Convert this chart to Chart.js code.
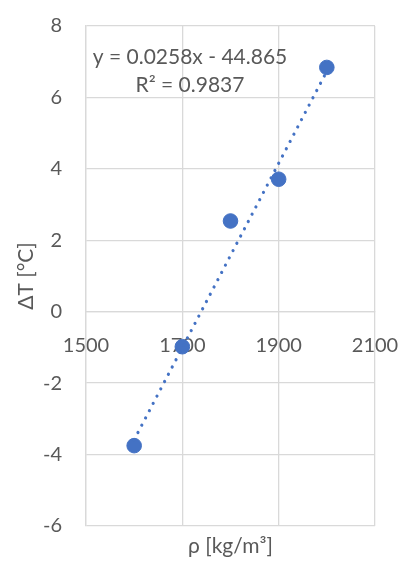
<!DOCTYPE html>
<html>
<head>
<meta charset="utf-8">
<script src="https://cdn.jsdelivr.net/npm/chart.js@4.4.1/dist/chart.umd.min.js"></script>
<style>
  html, body { margin: 0; padding: 0; background: #ffffff; }
  #wrap { width: 401px; height: 562px; position: relative; }
</style>
</head>
<body>
<div id="wrap"><canvas id="c" width="401" height="562"></canvas></div>
<script>
// Density (kg/m³) and temperature difference (°C) measurements
const density = [1600, 1700, 1800, 1900, 2000];
const deltaT = [-3.75, -0.98, 2.54, 3.71, 6.84];

// Linear trendline coefficients as shown in the equation label
const slope = 0.0258;
const intercept = -44.865;
const rSquared = 0.9837;

// Axis ranges and tick steps
const xMin = 1500, xMax = 2100, xStep = 200;
const yMin = -6, yMax = 8, yStep = 2;

const FONT = 'Lato, "Open Sans", sans-serif';
const TEXT = '#595959';
const GRID = '#d9d9d9';
const BLUE = '#4472c4';

const points = density.map((x, i) => ({ x: x, y: deltaT[i] }));
const trendEnds = [Math.min(...density), Math.max(...density)];
const trend = trendEnds.map(x => ({ x: x, y: slope * x + intercept }));

const fmt = v => (v < 0 ? '- ' : '+ ') + Math.abs(v).toFixed(3);
const eqLines = [
  'y = ' + slope.toFixed(4) + 'x ' + fmt(intercept),
  'R² = ' + rSquared.toFixed(4)
];

// Draws the trendline equation box inside the plot area
const equationLabel = {
  id: 'equationLabel',
  afterDatasetsDraw(chart) {
    const { ctx, chartArea } = chart;
    ctx.save();
    ctx.font = '21px ' + FONT;
    ctx.fillStyle = TEXT;
    ctx.textAlign = 'center';
    ctx.textBaseline = 'middle';
    const cx = chartArea.left + 104;
    const cy = chartArea.top + 31;
    eqLines.forEach((t, i) => ctx.fillText(t, cx, cy + i * 28));
    ctx.restore();
  }
};

new Chart(document.getElementById('c'), {
  type: 'scatter',
  data: {
    datasets: [
      {
        type: 'line',
        label: 'Linear trend',
        data: trend,
        borderColor: BLUE,
        borderWidth: 3.2,
        borderCapStyle: 'round',
        borderDash: [0.01, 8.2],
        pointRadius: 0,
        fill: false,
        order: 0
      },
      {
        label: 'ΔT',
        data: points,
        backgroundColor: BLUE,
        borderColor: BLUE,
        pointRadius: 7.3,
        pointHoverRadius: 7.3,
        order: 1
      }
    ]
  },
  options: {
    responsive: false,
    animation: false,
    events: [],
    layout: { padding: { left: 0, right: 26, top: 26, bottom: 0 } },
    plugins: {
      legend: { display: false },
      tooltip: { enabled: false }
    },
    scales: {
      x: {
        type: 'linear',
        position: { y: 0 },
        min: xMin, max: xMax,
        ticks: {
          stepSize: xStep,
          color: TEXT,
          font: { family: FONT, size: 20 },
          padding: 22,
          maxRotation: 0,
          callback: v => String(v)
        },
        grid: { color: GRID, lineWidth: 1.3, drawTicks: false },
        border: { display: true, color: GRID, width: 1.3 },
        afterFit(scale) { scale.paddingLeft = 0; scale.paddingRight = 0; }
      },
      xTitle: {
        type: 'linear',
        position: 'bottom',
        min: xMin, max: xMax,
        ticks: { display: false },
        grid: { display: false, drawTicks: false },
        border: { display: false },
        title: {
          display: true,
          text: 'ρ [kg/m³]',
          color: TEXT,
          font: { family: FONT, size: 21 },
          padding: { top: 0, bottom: 3 }
        },
        afterFit(scale) {
          scale.height = 36;
          scale.paddingLeft = 0; scale.paddingRight = 0;
        }
      },
      y: {
        type: 'linear',
        position: 'left',
        min: yMin, max: yMax,
        ticks: {
          stepSize: yStep,
          color: TEXT,
          font: { family: FONT, size: 20 },
          padding: 24
        },
        grid: { color: GRID, lineWidth: 1.3, drawTicks: false },
        border: { display: true, color: GRID, width: 1.3 },
        title: {
          display: true,
          text: 'ΔT [°C]',
          color: TEXT,
          font: { family: FONT, size: 21 },
          padding: { top: 14, bottom: 0 }
        },
        afterFit(scale) {
          scale.width = 86;
          scale.paddingTop = 0; scale.paddingBottom = 0;
        }
      }
    }
  },
  plugins: [equationLabel]
});
</script>
</body>
</html>
